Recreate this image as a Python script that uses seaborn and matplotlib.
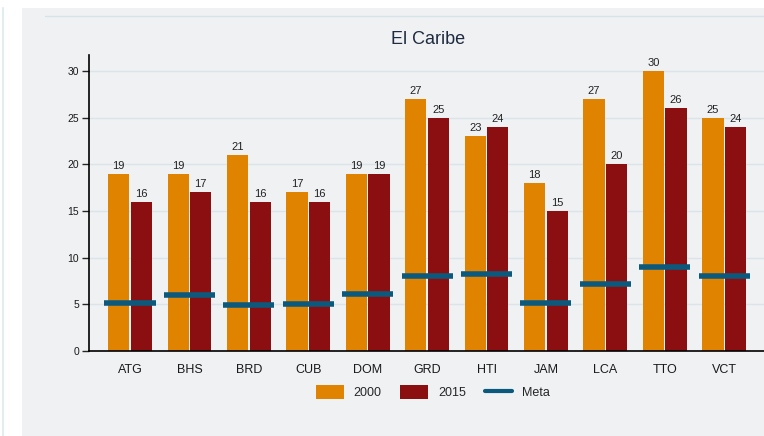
import pandas as pd
import matplotlib.pyplot as plt
import seaborn as sns
from matplotlib.patches import Rectangle, Patch
from matplotlib.lines import Line2D

paises = ['ATG', 'BHS', 'BRD', 'CUB', 'DOM', 'GRD', 'HTI', 'JAM', 'LCA', 'TTO', 'VCT']
v2000 = [19, 19, 21, 17, 19, 27, 23, 18, 27, 30, 25]
v2015 = [16, 17, 16, 16, 19, 25, 24, 15, 20, 26, 24]
meta = [5.1, 6.0, 4.9, 5.0, 6.1, 8.0, 8.2, 5.1, 7.2, 9.0, 8.0]
anios = ['2000', '2015']

df = pd.DataFrame({
    'Pais': paises * 2,
    'Anio': [anios[0]] * len(paises) + [anios[1]] * len(paises),
    'Valor': v2000 + v2015,
})

sns.set_style('white')
plt.rcParams['font.family'] = ['Liberation Sans', 'DejaVu Sans']

colores = {'2000': '#e08300', '2015': '#8b0f10'}
azul = '#0b5a7d'
fondo = '#eff1f3'

fig = plt.figure(figsize=(7.64, 4.36), dpi=100)
fig.patch.set_facecolor('white')
fig.patches.append(Rectangle((22 / 764, 0), 1 - 22 / 764, 1 - 8 / 436,
                             transform=fig.transFigure, facecolor=fondo,
                             edgecolor='none', zorder=-10))
fig.add_artist(Line2D([45 / 764, 1], [1 - 16 / 436] * 2, transform=fig.transFigure,
                      color='#d6e3ea', lw=1))
fig.add_artist(Line2D([3 / 764] * 2, [0, 1 - 8 / 436], transform=fig.transFigure,
                      color='#e3ecef', lw=1.5))

ax = fig.add_axes([89 / 764, 1 - 351 / 436, 1 - 89 / 764, (351 - 55) / 436])
ax.set_facecolor(fondo)

sns.barplot(data=df, x='Pais', y='Valor', hue='Anio', palette=colores,
            saturation=1, width=0.76, gap=0.06, ax=ax, legend=False,
            linewidth=0, zorder=2)

for c in ax.containers:
    ax.bar_label(c, fmt='%d', padding=2, fontsize=8, color='#222222')

xs = range(len(paises))
ax.hlines(meta, [x - 0.43 for x in xs], [x + 0.43 for x in xs], color=azul,
          lw=4, zorder=3)

ax.set_ylim(0, 31.7)
ax.set_xlim(-0.69, 10.67)
ax.set_yticks([0, 5, 10, 15, 20, 25, 30])
ax.yaxis.grid(True, color='#dbe5e9', lw=1)
ax.set_axisbelow(True)
for s in ['top', 'right']:
    ax.spines[s].set_visible(False)
for s in ['left', 'bottom']:
    ax.spines[s].set_color('black')
    ax.spines[s].set_linewidth(1.2)
ax.tick_params(axis='y', left=True, length=5, width=1, labelsize=7.5, pad=2,
               labelcolor='#1a1a1a')
ax.tick_params(axis='x', bottom=False, labelsize=9, pad=6, labelcolor='#1a1a1a')
ax.set_xlabel('')
ax.set_ylabel('')

fig.text(428 / 764, 1 - 40 / 436, 'El Caribe', ha='center', va='center',
         fontsize=13, color='#1f2b40')

handles = [Patch(facecolor=colores['2000'], edgecolor='none'),
           Patch(facecolor=colores['2015'], edgecolor='none'),
           Line2D([0], [0], color=azul, lw=3)]
fig.legend(handles, ['2000', '2015', 'Meta'], loc='center',
           bbox_to_anchor=(433 / 764, 1 - 392 / 436), ncol=3, frameon=False,
           fontsize=9, handlelength=2.2, handleheight=1.3, columnspacing=1.5,
           handletextpad=0.8)

fig.savefig('out.png', dpi=100, facecolor=fig.get_facecolor())
